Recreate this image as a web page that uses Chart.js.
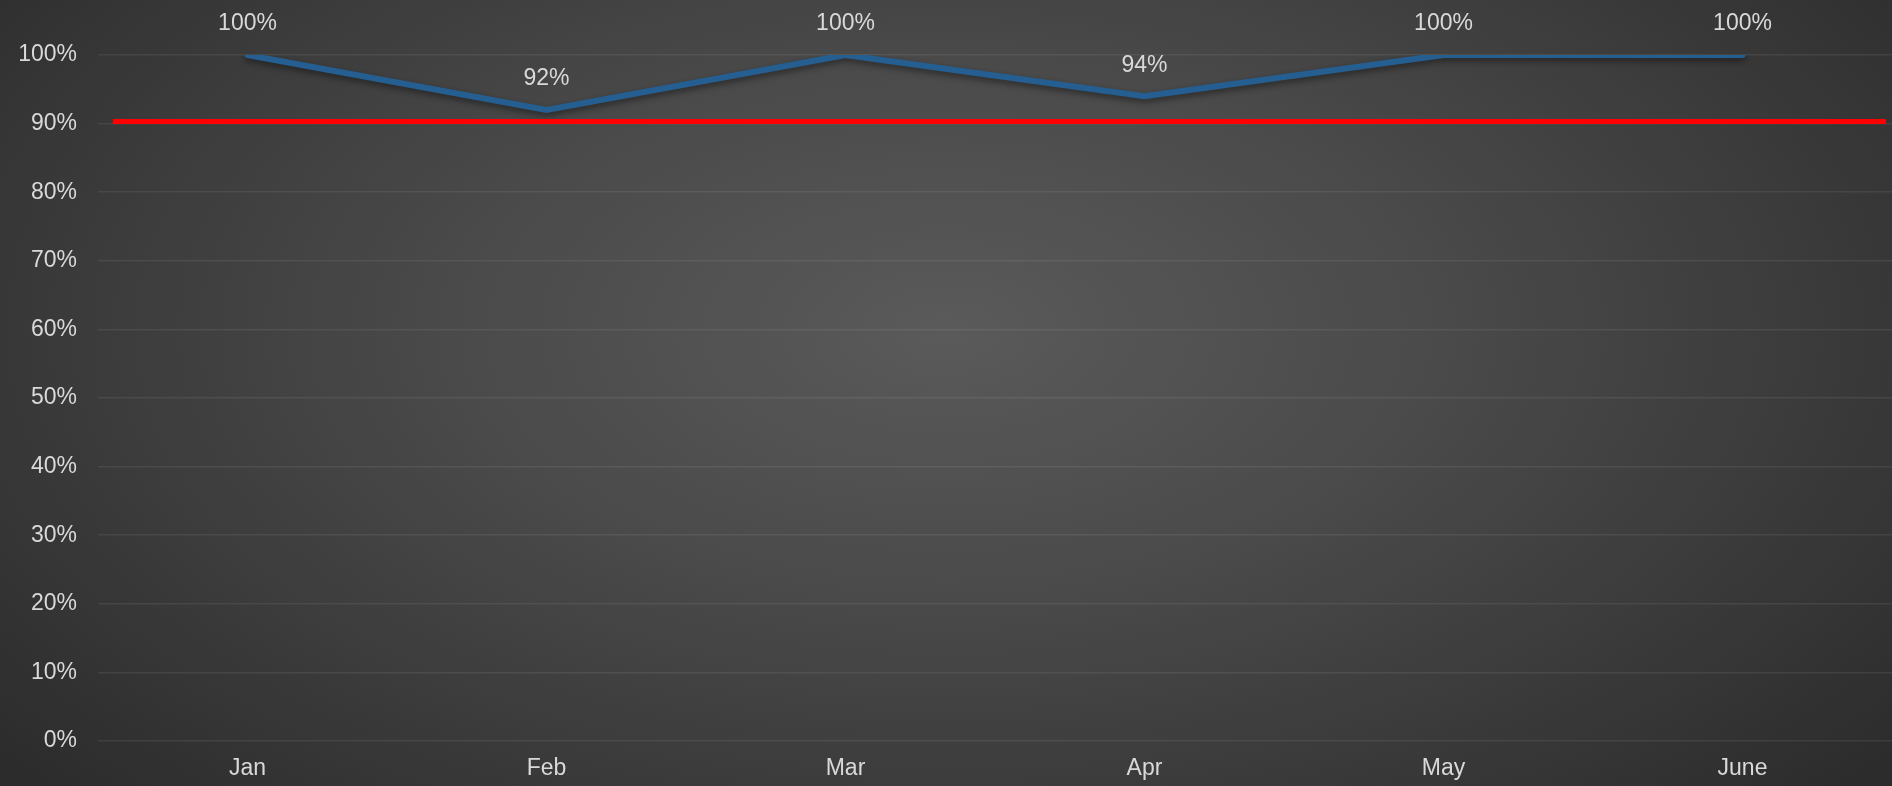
<!DOCTYPE html>
<html lang="en">
<head>
  <meta charset="UTF-8">
  <title>Monthly Rate</title>
  <script src="https://cdn.jsdelivr.net/npm/chart.js@4.4.0/dist/chart.umd.min.js"></script>
  <style>
    html, body {
      margin: 0;
      padding: 0;
      width: 1892px;
      height: 786px;
      overflow: hidden;
    }
    body {
      background: radial-gradient(ellipse 65% 85% at 50% 42%, #5a5a5a 0%, #4a4a4a 40%, #2c2c2c 100%);
    }
    #wrap {
      position: relative;
      width: 1892px;
      height: 786px;
    }
  </style>
</head>
<body>
  <div id="wrap">
    <canvas id="rateChart"></canvas>
  </div>

  <script>
    // chart data
    const months = ['Jan', 'Feb', 'Mar', 'Apr', 'May', 'June'];
    const rates = [100, 92, 100, 94, 100, 100];
    const targetRate = 90.3;
    // red target line runs almost the full width (in category units, 0..6)
    const targetStart = 0.05;
    const targetEnd = 5.98;
    const yTicks = [0, 10, 20, 30, 40, 50, 60, 70, 80, 90, 100];

    const textColor = '#d9d9d9';
    const gridColor = 'rgba(255, 255, 255, 0.075)';
    const fontFamily = '"Liberation Sans", Arial, sans-serif';

    // simple value labels above the blue line
    const pointLabels = {
      id: 'pointLabels',
      afterDatasetsDraw(chart) {
        const ctx = chart.ctx;
        const meta = chart.getDatasetMeta(0);
        ctx.save();
        ctx.font = '23px ' + fontFamily;
        ctx.fillStyle = textColor;
        ctx.textAlign = 'center';
        ctx.textBaseline = 'middle';
        meta.data.forEach((pt, i) => {
          ctx.fillText(rates[i] + '%', pt.x, pt.y - 31);
        });
        ctx.restore();
      }
    };

    // soft shadow under the blue line
    const lineShadow = {
      id: 'lineShadow',
      beforeDatasetDraw(chart, args) {
        if (args.index !== 0) return;
        const ctx = chart.ctx;
        ctx.save();
        ctx.shadowColor = 'rgba(0, 0, 0, 0.45)';
        ctx.shadowBlur = 6;
        ctx.shadowOffsetY = 3;
      },
      afterDatasetDraw(chart, args) {
        if (args.index !== 0) return;
        chart.ctx.restore();
      }
    };

    const ctx = document.getElementById('rateChart').getContext('2d');
    new Chart(ctx, {
      type: 'line',
      data: {
        labels: months,
        datasets: [
          {
            label: 'Rate',
            data: rates,
            borderColor: '#255e91',
            borderWidth: 6,
            borderCapStyle: 'round',
            borderJoinStyle: 'miter',
            pointRadius: 0,
            tension: 0,
            fill: false,
            order: 2
          },
          {
            label: 'Target',
            data: [{ x: targetStart, y: targetRate }, { x: targetEnd, y: targetRate }],
            xAxisID: 'x2',
            borderColor: '#ff0000',
            borderWidth: 5,
            pointRadius: 0,
            fill: false,
            order: 1
          }
        ]
      },
      options: {
        responsive: true,
        maintainAspectRatio: false,
        animation: false,
        layout: {
          padding: { top: 55, right: 0, bottom: 0, left: 0 }
        },
        plugins: {
          legend: { display: false },
          tooltip: { enabled: false }
        },
        scales: {
          x: {
            type: 'category',
            offset: true,
            grid: { display: false, drawTicks: false },
            border: { display: false },
            ticks: {
              color: textColor,
              font: { family: fontFamily, size: 23 },
              padding: 14,
              maxRotation: 0
            },
            afterFit(scale) { scale.height = 45; }
          },
          x2: {
            type: 'linear',
            display: false,
            min: 0,
            max: months.length
          },
          y: {
            min: 0,
            max: 100,
            afterBuildTicks(scale) {
              scale.ticks = yTicks.map(v => ({ value: v }));
            },
            grid: { color: gridColor, lineWidth: 1.5, drawTicks: false },
            border: { display: false },
            ticks: {
              color: textColor,
              font: { family: fontFamily, size: 23 },
              padding: 21,
              callback: v => v + '%'
            },
            afterFit(scale) { scale.width = 98; }
          }
        }
      },
      plugins: [lineShadow, pointLabels]
    });
  </script>
</body>
</html>
